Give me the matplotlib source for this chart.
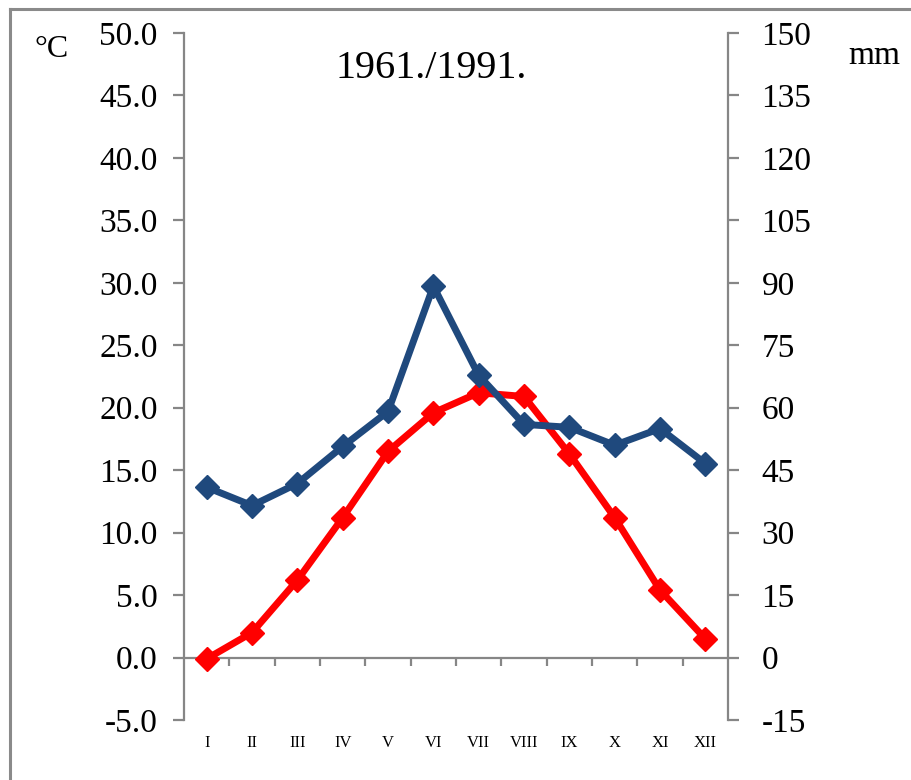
import numpy as np
import matplotlib.pyplot as plt
from matplotlib.lines import Line2D

# Monthly climate values (1961-1991)
months = ['I', 'II', 'III', 'IV', 'V', 'VI', 'VII', 'VIII', 'IX', 'X', 'XI', 'XII']
temp_c = [-0.1, 2.0, 6.2, 11.2, 16.5, 19.6, 21.2, 20.9, 16.3, 11.2, 5.4, 1.5]
precip_mm = [40.9, 36.5, 41.8, 50.7, 59.1, 89.2, 67.8, 56.0, 55.3, 51.0, 55.0, 46.6]

temp_ticks = [-5, 0, 5, 10, 15, 20, 25, 30, 35, 40, 45, 50]
precip_ticks = [-15, 0, 15, 30, 45, 60, 75, 90, 105, 120, 135, 150]

plt.rcParams['font.family'] = ['Liberation Serif', 'DejaVu Serif']

AXIS_COL = '#868686'
RED = '#ff0000'
BLUE = '#1f497d'

fig = plt.figure(figsize=(9.12, 7.8), dpi=100)
ax = fig.add_axes([0.2018, 0.0769, 0.5965, 0.8808])
ax2 = ax.twinx()

x = np.arange(len(months))

# temperature (left axis)
ax.plot(x, temp_c, color=RED, lw=5, marker='D', markersize=12.5, zorder=3)
ax.set_ylim(-5, 50)
ax.set_xlim(-0.5, 11.5)
ax.set_yticks(temp_ticks)
ax.set_yticklabels([f'{t:.1f}' for t in temp_ticks])

# precipitation (right axis)
ax2.plot(x, precip_mm, color=BLUE, lw=5, marker='D', markersize=12.5, zorder=3)
ax2.set_ylim(-15, 150)
ax2.set_yticks(precip_ticks)
ax2.set_yticklabels([str(p) for p in precip_ticks])

for a in (ax, ax2):
    a.patch.set_visible(False)
    for s in a.spines.values():
        s.set_color(AXIS_COL)
        s.set_linewidth(1.6)
    a.spines['top'].set_visible(False)

ax.spines['right'].set_visible(False)
ax2.spines['left'].set_visible(False)
ax2.spines['bottom'].set_visible(False)

# x axis drawn through zero, ticks between months
ax.spines['bottom'].set_position(('data', 0))
ax.set_xticks(np.arange(0.5, 11, 1))
ax.set_xticklabels([])
ax.tick_params(axis='x', direction='out', length=6, width=1.6, color=AXIS_COL)
ax.tick_params(axis='y', direction='out', length=8, width=1.6, color=AXIS_COL,
               labelsize=24, pad=11)
ax2.tick_params(axis='y', direction='out', length=8, width=1.6, color=AXIS_COL,
                labelsize=24, pad=16)

# month labels at the bottom of the plot area
sec = ax.secondary_xaxis(0)
sec.set_xticks(x)
sec.set_xticklabels(months)
sec.tick_params(axis='x', length=0, pad=11, labelsize=12)
sec.spines['bottom'].set_visible(False)

fig.text(0.4726, 0.912, '1961./1991.', fontsize=29, ha='center', va='center')
fig.text(0.057, 0.936, '°C', fontsize=23, ha='center', va='center')
fig.text(0.959, 0.928, 'mm', fontsize=24, ha='center', va='center')

# grey frame (top and left edges visible)
fig.add_artist(Line2D([10 / 912, 1.0], [1 - 9 / 780, 1 - 9 / 780], color='#8a8a8a',
                      lw=2.2, transform=fig.transFigure))
fig.add_artist(Line2D([10 / 912, 10 / 912], [0.0, 1 - 9 / 780], color='#8a8a8a',
                      lw=2.2, transform=fig.transFigure))

fig.savefig('out.png', dpi=100)
